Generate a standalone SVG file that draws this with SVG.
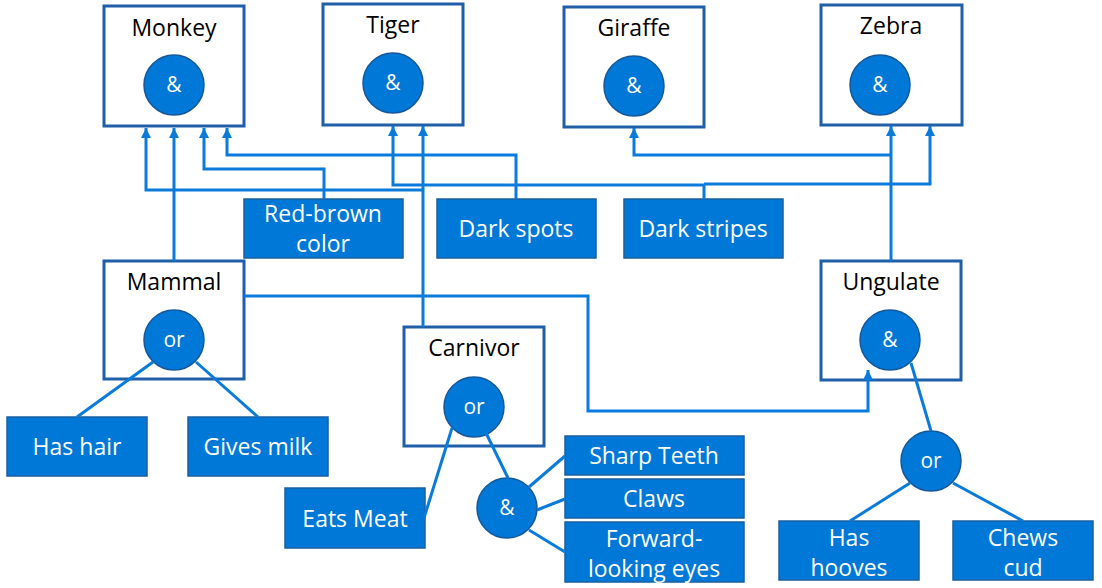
<svg xmlns="http://www.w3.org/2000/svg" width="1102" height="588" viewBox="0 0 1102 588">
<style>
.frame{fill:#fff;stroke:#1f5fa8;stroke-width:3}
.leaf{fill:#0078d7;stroke:#1a5fa0;stroke-width:1.5}
.gate{fill:#0078d7;stroke:#15589a;stroke-width:1.5}
.ttl{font-family:"Open Sans","Noto Sans",sans-serif;font-size:23px;fill:#000;text-anchor:middle}
.wt{font-family:"Open Sans","Noto Sans",sans-serif;font-size:23px;fill:#fff;text-anchor:middle}
.gt{font-family:"Open Sans","Noto Sans",sans-serif;font-size:21px;fill:#fff;text-anchor:middle}
.c{fill:none;stroke:#0a7bdb;stroke-width:3}
</style>
<defs>
<marker id="ah" viewBox="0 0 10 10" refX="10" refY="5" markerWidth="3.4" markerHeight="3.4" orient="auto" markerUnits="strokeWidth">
<path d="M0,0 L10,5 L0,10 Z" fill="#0a7bdb"/>
</marker>
</defs>
<g id="monkey"><rect class="frame" x="104" y="6" width="140" height="120"/><text class="ttl" x="174" y="36">Monkey</text><circle class="gate" cx="174" cy="85" r="30"/><text class="gt" x="174" y="92">&amp;</text></g>
<g id="tiger"><rect class="frame" x="323" y="4" width="140" height="121"/><text class="ttl" x="393" y="33">Tiger</text><circle class="gate" cx="393" cy="83" r="30"/><text class="gt" x="393" y="90">&amp;</text></g>
<g id="giraffe"><rect class="frame" x="564" y="7" width="140" height="120"/><text class="ttl" x="634" y="36">Giraffe</text><circle class="gate" cx="634" cy="86" r="30"/><text class="gt" x="634" y="93">&amp;</text></g>
<g id="zebra"><rect class="frame" x="821" y="5" width="141" height="120"/><text class="ttl" x="891" y="34">Zebra</text><circle class="gate" cx="880" cy="85" r="30"/><text class="gt" x="880" y="92">&amp;</text></g>
<g id="red-brown"><rect class="leaf" x="244" y="199" width="159" height="59"/><text class="wt" x="323" y="222">Red-brown</text><text class="wt" x="323" y="252">color</text></g>
<g id="dark-spots"><rect class="leaf" x="437" y="199" width="159" height="59"/><text class="wt" x="516" y="237">Dark spots</text></g>
<g id="dark-stripes"><rect class="leaf" x="624" y="199" width="159" height="59"/><text class="wt" x="703" y="237">Dark stripes</text></g>
<g id="mammal"><rect class="frame" x="104" y="261" width="140" height="118"/><text class="ttl" x="174" y="290">Mammal</text><circle class="gate" cx="174" cy="340" r="30"/><text class="gt" x="174" y="347">or</text></g>
<g id="carnivor"><rect class="frame" x="404" y="327" width="140" height="119"/><text class="ttl" x="474" y="356">Carnivor</text><circle class="gate" cx="474" cy="407" r="30"/><text class="gt" x="474" y="414">or</text></g>
<g id="ungulate"><rect class="frame" x="821" y="261" width="140" height="119"/><text class="ttl" x="891" y="290">Ungulate</text><circle class="gate" cx="890" cy="340" r="30"/><text class="gt" x="890" y="347">&amp;</text></g>
<g id="has-hair"><rect class="leaf" x="7" y="417" width="140" height="59"/><text class="wt" x="77" y="455">Has hair</text></g>
<g id="gives-milk"><rect class="leaf" x="188" y="417" width="140" height="59"/><text class="wt" x="258" y="455">Gives milk</text></g>
<g id="eats-meat"><rect class="leaf" x="285" y="488" width="140" height="60"/><text class="wt" x="355" y="527">Eats Meat</text></g>
<g id="carn-and"><circle class="gate" cx="507" cy="508" r="30"/><text class="gt" x="507" y="515">&amp;</text></g>
<g id="sharp-teeth"><rect class="leaf" x="565" y="436" width="179" height="39"/><text class="wt" x="654" y="464">Sharp Teeth</text></g>
<g id="claws"><rect class="leaf" x="565" y="479" width="179" height="39"/><text class="wt" x="654" y="507">Claws</text></g>
<g id="forward-eyes"><rect class="leaf" x="565" y="522" width="179" height="60"/><text class="wt" x="654" y="547">Forward-</text><text class="wt" x="654" y="577">looking eyes</text></g>
<g id="ung-or"><circle class="gate" cx="931" cy="461" r="30"/><text class="gt" x="931" y="468">or</text></g>
<g id="has-hooves"><rect class="leaf" x="779" y="521" width="140" height="59"/><text class="wt" x="849" y="546">Has</text><text class="wt" x="849" y="576">hooves</text></g>
<g id="chews-cud"><rect class="leaf" x="953" y="521" width="140" height="59"/><text class="wt" x="1023" y="546">Chews</text><text class="wt" x="1023" y="576">cud</text></g>
<g id="connectors">
<polyline class="c" points="423,190 146,190 146,128" marker-end="url(#ah)"/>
<polyline class="c" points="174,261 174,128" marker-end="url(#ah)"/>
<polyline class="c" points="324,199 324,169 204,169 204,128" marker-end="url(#ah)"/>
<polyline class="c" points="516,199 516,155 227,155 227,128" marker-end="url(#ah)"/>
<polyline class="c" points="704,199 704,185 393,185 393,126" marker-end="url(#ah)"/>
<polyline class="c" points="423,327 423,126" marker-end="url(#ah)"/>
<polyline class="c" points="704,184 930,184 930,126" marker-end="url(#ah)"/>
<polyline class="c" points="891,261 891,126" marker-end="url(#ah)"/>
<polyline class="c" points="891,155 634,155 634,128" marker-end="url(#ah)"/>
<polyline class="c" points="244,296 588,296 588,411 868,411 868,370" marker-end="url(#ah)"/>
<line class="c" x1="153" y1="362" x2="77" y2="417"/>
<line class="c" x1="196" y1="362" x2="258" y2="417"/>
<line class="c" x1="452" y1="428" x2="424" y2="518"/>
<line class="c" x1="486" y1="433" x2="508" y2="478"/>
<line class="c" x1="529" y1="487" x2="565" y2="456"/>
<line class="c" x1="537" y1="510" x2="565" y2="499"/>
<line class="c" x1="529" y1="530" x2="565" y2="552"/>
<line class="c" x1="911" y1="363" x2="931" y2="431"/>
<line class="c" x1="910" y1="483" x2="850" y2="521"/>
<line class="c" x1="953" y1="483" x2="1023" y2="521"/>
</g>
</svg>
